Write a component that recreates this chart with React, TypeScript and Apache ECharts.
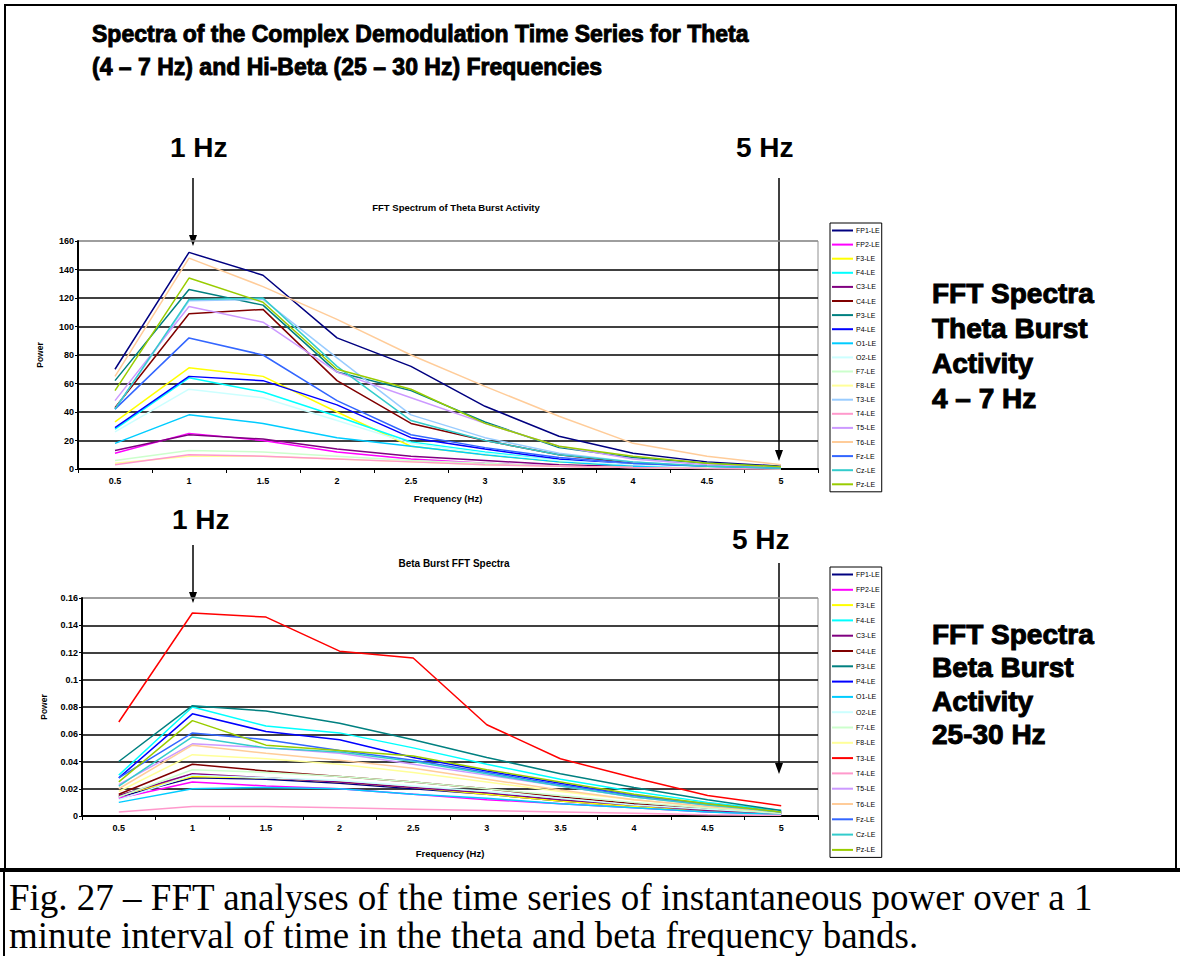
import React, { useEffect, useRef } from "react";
import * as echarts from "echarts";

const FREQUENCIES = ["0.5", "1", "1.5", "2", "2.5", "3", "3.5", "4", "4.5", "5"];

const CHANNELS = [
  "FP1-LE", "FP2-LE", "F3-LE", "F4-LE", "C3-LE", "C4-LE", "P3-LE", "P4-LE", "O1-LE", "O2-LE",
  "F7-LE", "F8-LE", "T3-LE", "T4-LE", "T5-LE", "T6-LE", "Fz-LE", "Cz-LE", "Pz-LE",
];

const THETA_COLORS = [
  "#000080", "#FF00FF", "#FFFF00", "#00FFFF", "#800080", "#800000", "#008080", "#0000FF", "#00CCFF", "#CCFFFF",
  "#CCFFCC", "#FFFF99", "#99CCFF", "#FF99CC", "#CC99FF", "#FFCC99", "#3366FF", "#33CCCC", "#99CC00",
];

const BETA_COLORS = [
  "#000080", "#FF00FF", "#FFFF00", "#00FFFF", "#800080", "#800000", "#008080", "#0000FF", "#00CCFF", "#CCFFFF",
  "#CCFFCC", "#FFFF99", "#FF0000", "#FF99CC", "#CC99FF", "#FFCC99", "#3366FF", "#33CCCC", "#99CC00",
];

// Theta burst FFT power, one row per channel (same order as CHANNELS)
const THETA_POWER = [
  [70, 152, 136, 92, 72, 44, 23, 11, 5, 2],
  [11, 25, 20, 12, 7, 4, 2, 1, 0.5, 0.2],
  [33, 71, 65, 40, 16, 10, 5, 2, 1, 0.4],
  [28, 64, 54, 37, 19, 12, 6, 3, 1, 0.4],
  [13, 24, 21, 14, 9, 6, 3, 1.5, 0.6, 0.2],
  [43, 109, 112, 62, 32, 20, 10, 4, 2, 0.5],
  [62, 126, 115, 68, 55, 33, 15, 8, 4, 1.5],
  [29, 65, 62, 45, 22, 14, 7, 3, 1.5, 0.5],
  [18, 38, 32, 22, 16, 10, 5, 2, 1, 0.3],
  [26, 56, 50, 34, 18, 11, 6, 3, 1, 0.3],
  [6, 13, 12, 9, 6, 4, 2, 1, 0.5, 0.2],
  [4, 9, 9, 7, 5, 3, 2, 1, 0.4, 0.1],
  [42, 118, 119, 78, 38, 22, 11, 5, 2, 0.6],
  [3, 10, 9, 7, 5, 3, 2, 1, 0.4, 0.1],
  [48, 114, 103, 68, 50, 32, 16, 7, 3, 1],
  [65, 148, 128, 105, 80, 58, 37, 18, 9, 3],
  [42, 92, 80, 48, 24, 15, 8, 4, 2, 0.5],
  [42, 119, 120, 72, 34, 20, 10, 5, 2, 0.6],
  [55, 134, 117, 70, 56, 32, 16, 9, 4, 1.6],
];

// Hi-beta burst FFT power, one row per channel (same order as CHANNELS)
const BETA_POWER = [
  [0.014, 0.028, 0.027, 0.024, 0.02, 0.016, 0.011, 0.007, 0.004, 0.002],
  [0.013, 0.025, 0.022, 0.02, 0.016, 0.012, 0.009, 0.006, 0.003, 0.0015],
  [0.015, 0.029, 0.028, 0.025, 0.021, 0.016, 0.011, 0.007, 0.004, 0.002],
  [0.03, 0.08, 0.066, 0.061, 0.05, 0.038, 0.027, 0.018, 0.01, 0.004],
  [0.015, 0.031, 0.028, 0.025, 0.021, 0.017, 0.012, 0.008, 0.004, 0.002],
  [0.016, 0.038, 0.033, 0.029, 0.025, 0.02, 0.014, 0.009, 0.005, 0.002],
  [0.04, 0.081, 0.077, 0.068, 0.056, 0.043, 0.031, 0.021, 0.012, 0.004],
  [0.028, 0.075, 0.062, 0.056, 0.043, 0.033, 0.024, 0.015, 0.008, 0.003],
  [0.01, 0.02, 0.021, 0.02, 0.016, 0.013, 0.009, 0.006, 0.003, 0.001],
  [0.012, 0.03, 0.028, 0.026, 0.022, 0.018, 0.013, 0.008, 0.005, 0.002],
  [0.014, 0.034, 0.032, 0.029, 0.025, 0.02, 0.015, 0.01, 0.006, 0.002],
  [0.018, 0.045, 0.042, 0.038, 0.032, 0.025, 0.018, 0.012, 0.007, 0.003],
  [0.069, 0.149, 0.146, 0.121, 0.116, 0.067, 0.042, 0.028, 0.015, 0.0076],
  [0.003, 0.007, 0.007, 0.006, 0.005, 0.004, 0.003, 0.002, 0.001, 0.0005],
  [0.023, 0.053, 0.05, 0.046, 0.038, 0.03, 0.022, 0.014, 0.008, 0.003],
  [0.02, 0.052, 0.046, 0.041, 0.035, 0.027, 0.019, 0.012, 0.007, 0.003],
  [0.028, 0.061, 0.056, 0.048, 0.041, 0.032, 0.023, 0.015, 0.009, 0.003],
  [0.022, 0.058, 0.05, 0.047, 0.04, 0.031, 0.022, 0.014, 0.008, 0.003],
  [0.025, 0.07, 0.052, 0.048, 0.044, 0.034, 0.025, 0.016, 0.009, 0.003],
];

const TITLE_LINES = [
  "Spectra of the Complex Demodulation Time Series for Theta",
  "(4 – 7 Hz) and Hi-Beta (25 – 30 Hz) Frequencies",
];
const THETA_SIDE = ["FFT Spectra", "Theta Burst", "Activity", "4 – 7 Hz"];
const BETA_SIDE = ["FFT Spectra", "Beta Burst", "Activity", "25-30 Hz"];
const CAPTION = [
  "Fig. 27 – FFT analyses of the time series of instantaneous power over a 1",
  "minute interval of time in the theta and beta frequency bands.",
];

const SANS = '"Liberation Sans", Arial, sans-serif';
const SERIF = '"Liberation Serif", "Times New Roman", serif';
const BETA_SUFFIX = "\u200b";

function txt(text: string, x: number, y: number, size: number, opts: any = {}) {
  const style: any = {
    text,
    fill: "#000",
    fontSize: size,
    fontWeight: opts.weight ?? "bold",
    fontFamily: opts.family ?? SANS,
    textAlign: opts.align ?? "left",
    textVerticalAlign: "middle",
  };
  if (opts.heavy) {
    style.stroke = "#000";
    style.lineWidth = opts.heavy;
  }
  return { type: "text", x, y, silent: true, style };
}

function arrow(x: number, y1: number, tip: number) {
  return [
    { type: "line", silent: true, shape: { x1: x, y1, x2: x, y2: tip - 8 }, style: { stroke: "#000", lineWidth: 1.5 } },
    {
      type: "polygon",
      silent: true,
      shape: { points: [[x, tip], [x - 4, tip - 11], [x + 4, tip - 11]] },
      style: { fill: "#000" },
    },
  ];
}

function axisPair(gridIndex: number, max: number, interval: number, nameGapX: number) {
  const xAxis = {
    type: "category",
    gridIndex,
    data: FREQUENCIES,
    boundaryGap: true,
    name: "Frequency (Hz)",
    nameLocation: "middle",
    nameGap: nameGapX,
    nameTextStyle: { fontSize: 9.5, fontWeight: "bold", fontFamily: SANS, color: "#000" },
    axisLine: { lineStyle: { color: "#000", width: 2 } },
    axisTick: { show: true, inside: false, length: 4, lineStyle: { color: "#000", width: 1 } },
    axisLabel: { fontSize: 9, fontWeight: "bold", fontFamily: SANS, color: "#000", margin: 7 },
    splitLine: { show: false },
  };
  const yAxis = {
    type: "value",
    gridIndex,
    min: 0,
    max,
    interval,
    name: "Power",
    nameLocation: "middle",
    nameRotate: 90,
    nameGap: 34,
    nameTextStyle: { fontSize: 8.5, fontWeight: "bold", fontFamily: SANS, color: "#000" },
    axisLine: { show: true, lineStyle: { color: "#000", width: 2 } },
    axisTick: { show: true, inside: false, length: 3, lineStyle: { color: "#000" } },
    axisLabel: { fontSize: 9, fontWeight: "bold", fontFamily: SANS, color: "#000", margin: 4 },
    splitLine: {
      show: true,
      lineStyle: {
        color: ["#000", "#000", "#000", "#000", "#000", "#000", "#000", "#000", "#909090"],
        width: 1.6,
      },
    },
  };
  return { xAxis, yAxis };
}

export default function App() {
  const ref = useRef<HTMLDivElement | null>(null);

  useEffect(() => {
    if (!ref.current) return;
    const chart = echarts.init(ref.current, null, { renderer: "svg" });

    const top = axisPair(0, 160, 20, 24);
    const bot = axisPair(1, 0.16, 0.02, 32);

    const thetaSeries = CHANNELS.map((name, i) => ({
      type: "line",
      name,
      xAxisIndex: 0,
      yAxisIndex: 0,
      data: THETA_POWER[i],
      symbol: "none",
      color: THETA_COLORS[i],
      lineStyle: { width: 1.5, color: THETA_COLORS[i] },
    }));
    const betaSeries = CHANNELS.map((name, i) => ({
      type: "line",
      name: name + BETA_SUFFIX,
      xAxisIndex: 1,
      yAxisIndex: 1,
      data: BETA_POWER[i],
      symbol: "none",
      color: BETA_COLORS[i],
      lineStyle: { width: 1.5, color: BETA_COLORS[i] },
    }));

    const legendBase = {
      orient: "vertical",
      left: 830,
      icon: "rect",
      itemWidth: 21,
      itemHeight: 2,
      borderColor: "#000",
      borderWidth: 1,
      padding: [3, 2, 3, 2],
      selectedMode: false,
      textStyle: { fontSize: 7, lineHeight: 9, fontFamily: SANS, color: "#000", padding: [0, 0, 0, -2] },
      formatter: (n: string) => n.replace(BETA_SUFFIX, ""),
    };

    const graphics: any[] = [
      { type: "rect", silent: true, shape: { x: 5, y: 5, width: 1171, height: 865 }, style: { fill: "none", stroke: "#000", lineWidth: 2 } },
      { type: "line", silent: true, shape: { x1: 0, y1: 870, x2: 1180, y2: 870 }, style: { stroke: "#000", lineWidth: 4 } },
      { type: "line", silent: true, shape: { x1: 4, y1: 870, x2: 4, y2: 956 }, style: { stroke: "#000", lineWidth: 2 } },
      txt(TITLE_LINES[0], 92, 34, 23, { heavy: 0.9 }),
      txt(TITLE_LINES[1], 92, 67, 23, { heavy: 0.9 }),
      txt("1 Hz", 170, 147, 28),
      txt("5 Hz", 736, 147, 28),
      txt("1 Hz", 172, 519, 28),
      txt("5 Hz", 732, 539, 28),
      txt("FFT Spectrum of Theta Burst Activity", 456, 207, 9.5, { align: "center" }),
      txt("Beta Burst FFT Spectra", 454, 563, 10, { align: "center" }),
      ...arrow(193, 178, 246),
      ...arrow(779, 178, 461),
      ...arrow(193, 545, 603),
      ...arrow(779, 563, 774),
      ...THETA_SIDE.map((t, i) => txt(t, 932, 293 + i * 35, 28, { heavy: 1 })),
      ...BETA_SIDE.map((t, i) => txt(t, 932, 634 + i * 33.5, 28, { heavy: 1 })),
      txt(CAPTION[0], 9, 897, 37, { weight: "normal", family: SERIF }),
      txt(CAPTION[1], 9, 935, 37, { weight: "normal", family: SERIF }),
    ];

    chart.setOption({
      animation: false,
      backgroundColor: "#fff",
      grid: [
        { left: 78, top: 241, width: 740, height: 228, show: true, borderColor: "#909090", borderWidth: 1 },
        { left: 82, top: 598, width: 736, height: 218, show: true, borderColor: "#909090", borderWidth: 1 },
      ],
      xAxis: [top.xAxis, bot.xAxis],
      yAxis: [top.yAxis, bot.yAxis],
      legend: [
        { ...legendBase, top: 223, itemGap: 5.1, data: CHANNELS },
        { ...legendBase, top: 567, itemGap: 6.3, data: CHANNELS.map((c) => c + BETA_SUFFIX) },
      ],
      graphic: graphics,
      series: [...thetaSeries, ...betaSeries],
    });

    return () => chart.dispose();
  }, []);

  return (
    <div
      ref={ref}
      style={{ position: "fixed", left: 0, top: 0, width: 1180, height: 956, background: "#fff" }}
    />
  );
}
